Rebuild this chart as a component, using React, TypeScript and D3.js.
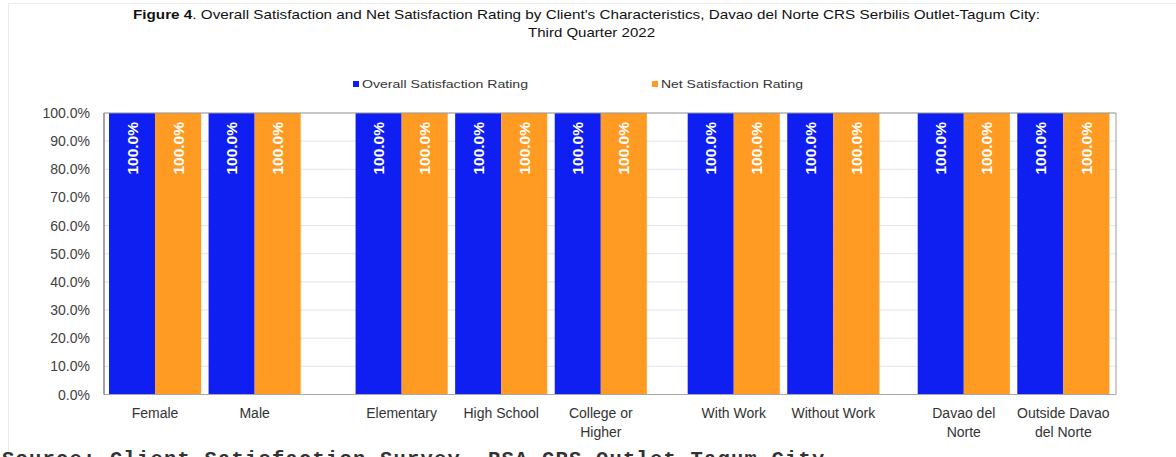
import React from "react";
import * as d3 from "d3";

const groups: string[][] = [
  ["Female", "Male"],
  ["Elementary", "High School", "College or Higher"],
  ["With Work", "Without Work"],
  ["Davao del Norte", "Outside Davao del Norte"],
];
const categories: string[] = groups.flat();
const overallSatisfaction: number[] = [1, 1, 1, 1, 1, 1, 1, 1, 1];
const netSatisfaction: number[] = [1, 1, 1, 1, 1, 1, 1, 1, 1];
const yTicks: number[] = [0, 0.1, 0.2, 0.3, 0.4, 0.5, 0.6, 0.7, 0.8, 0.9, 1.0];
const seriesNames: string[] = ["Overall Satisfaction Rating", "Net Satisfaction Rating"];
const labelLines: Record<string, string[]> = {
  "College or Higher": ["College or", "Higher"],
  "Davao del Norte": ["Davao del", "Norte"],
  "Outside Davao del Norte": ["Outside Davao", "del Norte"],
};

// layout
const W = 1176;
const H = 457;
const gapUnits = [0.476, 0.335, 0.31];
const COLORS = ["#0f1ff2", "#ff9b22"];
const FONT = "'Liberation Sans', Arial, sans-serif";

function positions(): number[] {
  const out: number[] = [];
  let p = 0;
  groups.forEach((g, gi) => {
    g.forEach(() => {
      out.push(p);
      p += 1;
    });
    if (gi < gapUnits.length) p += gapUnits[gi];
  });
  return out;
}

export default function App() {
  const pos = positions();
  const maxPos = pos[pos.length - 1];
  const x = d3.scaleLinear().domain([0, maxPos]).range([109, 1017.3]);
  const unit = x(1) - x(0);
  const barW = unit * 0.4625;
  const y = d3.scaleLinear().domain([0, 1]).range([394.5, 113]);
  const plotL = 104;
  const plotR = 1116;
  const fmt = d3.format(".1%");
  const series = [overallSatisfaction, netSatisfaction];

  return (
    <svg
      width={W}
      height={H}
      style={{ position: "absolute", left: 0, top: 0, background: "#fff" }}
      fontFamily={FONT}
    >
      <rect x={0} y={0} width={W} height={H} fill="#fff" />
      {/* outer chart border */}
      <line x1={8} x2={W} y1={3.5} y2={3.5} stroke="#ebebeb" />
      <line x1={8.5} x2={8.5} y1={3} y2={H} stroke="#ebebeb" />

      {/* title */}
      <text x={133} y={19} fontSize={13.5} fill="#111" textLength={907} lengthAdjust="spacingAndGlyphs">
        <tspan fontWeight="bold">Figure 4</tspan>
        <tspan>. Overall Satisfaction and Net Satisfaction Rating by Client's Characteristics, Davao del Norte CRS Serbilis Outlet-Tagum City:</tspan>
      </text>
      <text x={528} y={37} fontSize={13.5} fill="#111" textLength={127} lengthAdjust="spacingAndGlyphs">
        Third Quarter 2022
      </text>

      {/* legend */}
      {[
        { x: 353, name: seriesNames[0], c: COLORS[0], w: 166 },
        { x: 652, name: seriesNames[1], c: COLORS[1], w: 142 },
      ].map((l) => (
        <g key={l.name}>
          <rect x={l.x} y={81} width={6} height={6} fill={l.c} />
          <text
            x={l.x + 9}
            y={84}
            dominantBaseline="central"
            fontSize={11.5}
            fill="#333"
            textLength={l.w}
            lengthAdjust="spacingAndGlyphs"
          >
            {l.name}
          </text>
        </g>
      ))}

      {/* gridlines */}
      {yTicks.map((t) => (
        <line key={"g" + t} x1={plotL} x2={plotR} y1={y(t)} y2={y(t)} stroke="#e3e3e3" />
      ))}

      {/* bars */}
      {categories.map((c, i) =>
        series.map((s, si) => {
          const bx = x(pos[i]) + si * barW;
          return (
            <g key={c + si}>
              <rect x={bx} y={y(s[i])} width={barW} height={y(0) - y(s[i])} fill={COLORS[si]} />
              <text
                transform={`translate(${bx + barW / 2},${y(s[i]) + 9}) rotate(-90)`}
                textAnchor="end"
                dominantBaseline="central"
                fontSize={15.5}
                fontWeight="bold"
                fill="#fff"
              >
                {fmt(s[i])}
              </text>
            </g>
          );
        })
      )}

      {/* frame */}
      <line x1={plotL} x2={plotR} y1={y(1)} y2={y(1)} stroke="#9a9a9a" />
      <line x1={plotR} x2={plotR} y1={y(1)} y2={y(0)} stroke="#9a9a9a" />
      <line x1={plotL} x2={plotR} y1={y(0)} y2={y(0)} stroke="#a8a8a8" />
      <line x1={plotL} x2={plotL} y1={y(1)} y2={y(0)} stroke="#8080a0" strokeWidth={1.5} />

      {/* y tick labels */}
      {yTicks.map((t) => (
        <text key={"y" + t} x={90} y={y(t)} textAnchor="end" dominantBaseline="central" fontSize={14} fill="#404040">
          {fmt(t)}
        </text>
      ))}

      {/* x labels */}
      {categories.map((c, i) => {
        const cx = x(pos[i]) + barW;
        const lines = labelLines[c] || [c];
        return (
          <text key={"x" + c} x={cx} y={413} textAnchor="middle" fontSize={14} fill="#333">
            {lines.map((ln, li) => (
              <tspan key={li} x={cx} y={413 + li * 19} dominantBaseline="central">
                {ln}
              </tspan>
            ))}
          </text>
        );
      })}

      {/* cut-off source line */}
      <text x={2} y={465} fontSize={20.5} fontFamily="'Liberation Mono', monospace" fontWeight="bold" fill="#333" letterSpacing={1.2}>
        Source: Client Satisfaction Survey, PSA CRS Outlet-Tagum City
      </text>
    </svg>
  );
}
